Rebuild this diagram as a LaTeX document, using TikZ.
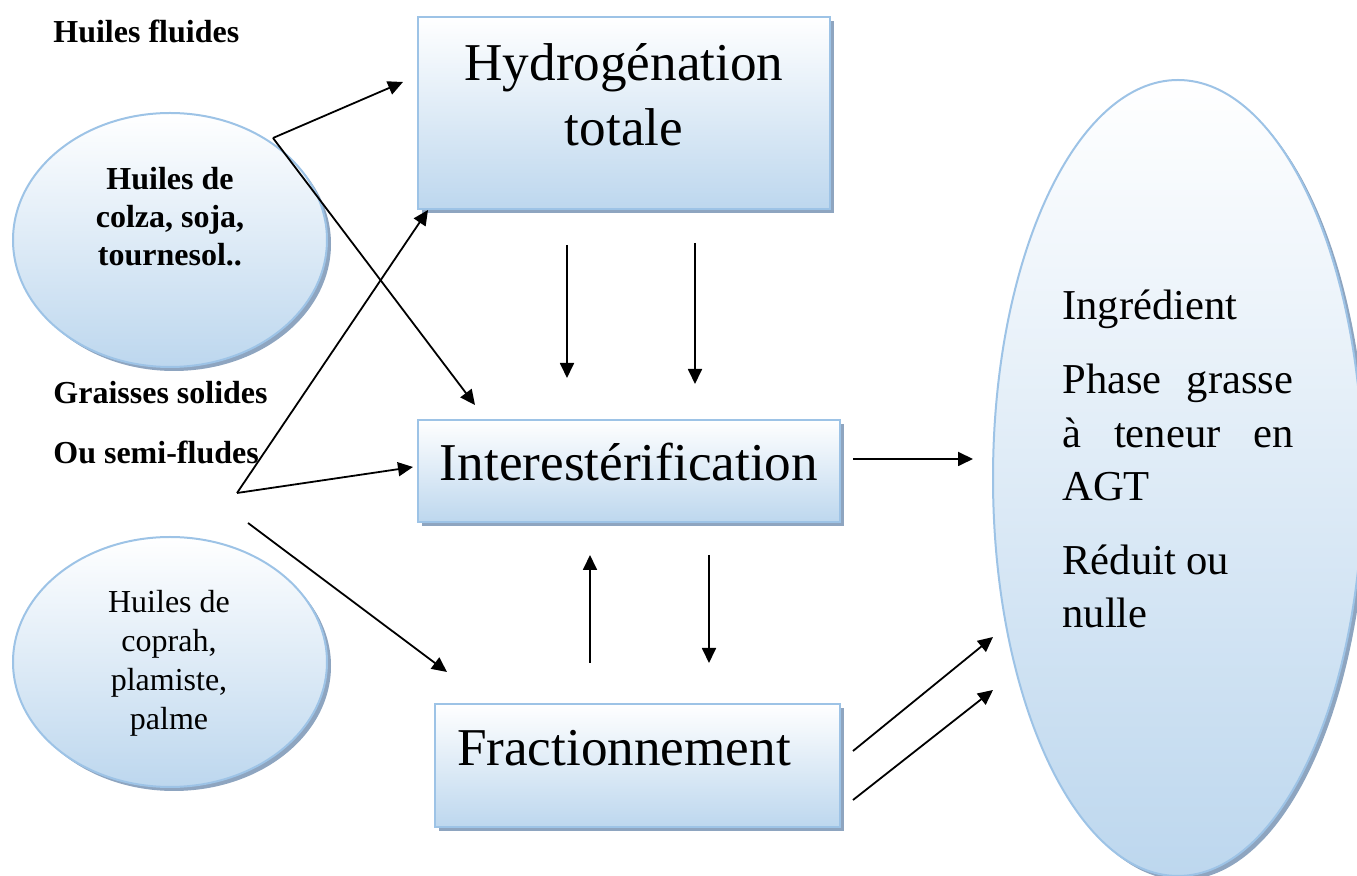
\documentclass[tikz,border=0pt]{standalone}
\usepackage{fontspec}
\setmainfont{Liberation Serif}
\usetikzlibrary{shapes.geometric,shadows,arrows.meta}

\definecolor{rimblue}{HTML}{9DC3E6}
\definecolor{fillblue}{HTML}{BDD7EE}
\definecolor{shadeblue}{HTML}{8EA5C0}

\tikzset{
	procbox/.style={draw=rimblue, line width=1pt, top color=white, bottom color=fillblue, inner sep=0pt,
		drop shadow={shadow xshift=2pt, shadow yshift=-2pt, fill=shadeblue, opacity=1}},
	oilblob/.style={procbox, ellipse},
	bigtxt/.style={font=\fontsize{26.6}{32.5}\selectfont, align=center, inner sep=0pt},
	blobtxt/.style={font=\fontsize{16}{19.5}\selectfont, align=center, inner sep=0pt},
	labeltxt/.style={font=\fontsize{16}{19.5}\selectfont\bfseries, anchor=base west, inner sep=0pt},
	flow/.style={-{Triangle[length=7.5pt,width=7pt]}, line width=0.9pt}
}

\begin{document}
\begin{tikzpicture}[x=0.5pt, y=-0.5pt]
			\useasboundingbox (0,0) rectangle (1357,876);

			% Process boxes
			\node[procbox, minimum width=206pt, minimum height=96pt] (hydro) at (624,113) {};
			\node[procbox, minimum width=211pt, minimum height=51pt] (inter) at (629,471) {};
			\node[procbox, minimum width=202.5pt, minimum height=61.5pt] (fract) at (637.5,765.5) {};
			\node[bigtxt] (hydrotxt) at (624,95) {Hydrogénation\\totale};
			\node[bigtxt] (intertxt) at (629,462) {Interestérification};
			\node[bigtxt] (fracttxt) at (624,748) {Fractionnement};

			% Oils on the left
			\node[oilblob, minimum width=157pt, minimum height=127pt] (colza) at (170,240) {};
			\node[oilblob, minimum width=157pt, minimum height=125pt] (coprah) at (170,662) {};
			\node[blobtxt, font=\fontsize{16}{19}\selectfont\bfseries] (colzatxt) at (170,217) {Huiles de\\colza, soja,\\tournesol..};
			\node[blobtxt] (coprahtxt) at (169,663) {Huiles de\\coprah,\\plamiste,\\palme};
			\node[labeltxt] (fluides) at (53,43) {Huiles fluides};
			\node[labeltxt] (solides) at (53,404) {Graisses solides};
			\node[labeltxt] (semi) at (53,464) {Ou semi-fludes};

			% Result
			\node[oilblob, minimum width=185pt, minimum height=398pt] (result) at (1178,478) {};
			\node[anchor=base west, inner sep=0pt, font=\fontsize{21.3}{26.8}\selectfont] (resulttxt) at (1062,320)
				{\parbox[t]{115.5pt}{Ingrédient\\[10pt]Phase\hfill grasse\\à\hfill teneur\hfill en\\AGT\\[10pt]Réduit ou\\nulle}};

			% Free ends of the arrows
			\coordinate (forkA) at (273,138);
			\coordinate (forkB) at (237,493);
			\coordinate (startC) at (248,523);
			\coordinate (tipHydroA) at (403,82);
			\coordinate (tipInterA) at (475,405);
			\coordinate (tipHydroB) at (428,210);
			\coordinate (tipInterB) at (413,467);
			\coordinate (tipFract) at (447,672);

			% Macro for one arrow between two named points.
			% Usage: \flowarrow{from}{to}
			\newcommand{\flowarrow}[2]{
				\draw[flow] (#1) -- (#2);
			}

			\flowarrow{forkA}{tipHydroA}
			\flowarrow{forkA}{tipInterA}
			\flowarrow{forkB}{tipHydroB}
			\flowarrow{forkB}{tipInterB}
			\flowarrow{startC}{tipFract}

			% Arrows between the boxes
			\coordinate (hiA) at (567,245); \coordinate (loA) at (567,378);
			\coordinate (hiB) at (695,243); \coordinate (loB) at (695,384);
			\coordinate (hiC) at (590,555); \coordinate (loC) at (590,663);
			\coordinate (hiD) at (709,555); \coordinate (loD) at (709,663);
			\flowarrow{hiA}{loA}
			\flowarrow{hiB}{loB}
			\flowarrow{loC}{hiC}
			\flowarrow{hiD}{loD}

			% Arrows to the result
			\coordinate (outA) at (853,459); \coordinate (inA) at (973,459);
			\coordinate (outB) at (853,751); \coordinate (inB) at (993,637);
			\coordinate (outC) at (853,800); \coordinate (inC) at (993,690);
			\flowarrow{outA}{inA}
			\flowarrow{outB}{inB}
			\flowarrow{outC}{inC}
		\end{tikzpicture}
\end{document}
